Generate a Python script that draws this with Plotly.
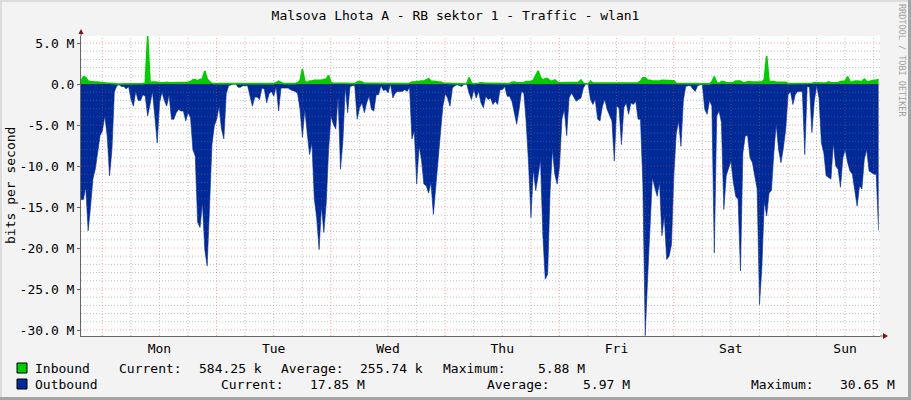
"""RRDtool-style weekly traffic graph for wlan1, redrawn with Plotly."""

import pandas as pd
import plotly.graph_objects as go

TITLE = "Malsova Lhota A - RB sektor 1 - Traffic - wlan1"
Y_TITLE = "bits per second"
WATERMARK = "RRDTOOL / TOBI OETIKER"

START = "2013-03-03 19:32"
STEP = "30min"
DAYS = ["Mon", "Tue", "Wed", "Thu", "Fri", "Sat", "Sun"]

Y_TICKS = [5, 0, -5, -10, -15, -20, -25, -30]
Y_LABELS = ["5.0 M", "0.0", "-5.0 M", "-10.0 M", "-15.0 M", "-20.0 M", "-25.0 M", "-30.0 M"]

# Mbit/s, one value every 30 minutes
INBOUND_M = [
    0.35, 0.9, 0.8, 0.35, 0.3, 0.25, 0.25, 0.25, 0.2, 0.12, 0.12, 0.1, 0.1, 0.1, 0.05, 0.0,
    0.0, 0.05, 0.05, 0.05, 0.05, 0.05, 0.05, 0.05, 0.05, 0.05, 0.05, 0.1, 5.88, 0.15, 0.25, 0.25,
    0.2, 0.2, 0.15, 0.15, 0.2, 0.15, 0.15, 0.2, 0.2, 0.15, 0.15, 0.2, 0.15, 0.2, 0.3, 0.5,
    0.5, 0.4, 0.55, 0.6, 1.6, 0.6, 0.3, 0.1, 0.05,
    0.05, 0.05, 0.05, 0.05, 0.05, 0.03, 0.03, 0.0, 0.0, 0.02, 0.02, 0.02, 0.02, 0.02, 0.02, 0.02,
    0.02, 0.02, 0.02, 0.02, 0.02, 0.02, 0.02, 0.02, 0.05, 0.15, 0.35, 0.2, 0.05, 0.05, 0.05, 0.05,
    0.05, 0.05, 0.15, 0.4, 1.8, 0.35, 0.15, 0.35, 0.35, 0.45, 0.45, 0.45, 0.45, 0.55, 0.6, 1.05,
    0.15, 0.12, 0.12, 0.12, 0.12, 0.12, 0.08, 0.12, 0.05, 0.05, 0.05, 0.25, 0.3, 0.25, 0.08, 0.08,
    0.08, 0.08, 0.08, 0.08, 0.08, 0.08, 0.08, 0.08, 0.05, 0.0, 0.05, 0.05, 0.05, 0.05, 0.05, 0.05,
    0.05, 0.1, 0.25, 0.25, 0.3, 0.35, 0.35, 0.35, 0.5, 0.65, 0.35, 0.35, 0.3, 0.25, 0.25, 0.12,
    0.08, 0.08, 0.08, 0.05, 0.05, 0.05, 0.05, 0.05, 0.0, 0.0, 0.8, 0.1, 0.05, 0.05, 0.1, 0.15,
    0.08, 0.08, 0.08, 0.08, 0.08, 0.08, 0.08, 0.08, 0.05, 0.05, 0.05, 0.05, 0.2, 0.25, 0.15, 0.15,
    0.15, 0.15, 0.3, 0.3, 0.3, 0.45, 1.0, 1.6, 0.8, 0.45, 0.65, 0.65, 0.35, 0.35, 0.5, 0.25,
    0.15, 0.15, 0.15, 0.15, 0.15, 0.15, 0.15, 0.15, 0.2, 0.5, 0.1, 0.0, 0.0, 0.35, 0.12, 0.12,
    0.12, 0.12, 0.12, 0.12, 0.15, 0.2, 0.2, 0.2, 0.2, 0.2, 0.2, 0.2, 0.15, 0.15, 0.15, 0.15,
    0.15, 0.15, 0.35, 0.75, 0.75, 0.45, 0.45, 0.35, 0.35, 0.35, 0.35, 0.45, 0.45, 0.45, 0.45, 0.45,
    0.4,
    0.08, 0.08, 0.05, 0.02, 0.02, 0.02, 0.02, 0.02, 0.02, 0.02, 0.02, 0.02, 0.02, 0.02, 0.02, 0.25,
    0.9, 0.15, 0.08, 0.3, 0.3, 0.15, 0.15, 0.15, 0.15, 0.35, 0.35, 0.35, 0.15, 0.15, 0.3, 0.25,
    0.25, 0.25, 0.25, 0.25, 0.25, 0.55, 3.4, 0.3, 0.3, 0.3, 0.2, 0.2, 0.2, 0.2, 0.2,
    0.05, 0.05, 0.05, 0.05, 0.05, 0.05, 0.05, 0.05, 0.05, 0.05, 0.1, 0.15, 0.12, 0.12, 0.12, 0.12,
    0.12, 0.25, 0.15, 0.15, 0.15, 0.15, 0.3, 0.35, 0.35, 0.9, 0.25, 0.25, 0.35, 0.35, 0.3, 0.3,
    0.6, 0.3, 0.3, 0.4, 0.45, 0.45, 0.58,
]

# Mbit/s, drawn below the zero line
OUTBOUND_M = [
    14.1, 14.1, 12.6, 17.9, 15.0, 11.6, 10.4, 8.0, 6.3, 5.7, 3.9, 6.3, 11.2, 8.0, 1.0, 0.2,
    0.1, 0.3, 0.3, 0.6, 0.3, 1.9, 2.7, 0.9, 2.0, 2.0, 1.3, 1.5, 3.9, 2.5, 0.9, 3.9,
    7.2, 2.3, 1.0, 2.0, 2.7, 1.3, 4.3, 4.3, 3.5, 3.1, 3.3, 3.3, 4.5, 3.5, 4.1, 8.0,
    8.8, 16.9, 17.5, 14.5, 20.2, 22.2, 14.5, 7.4, 5.1,
    4.3, 2.7, 5.5, 6.7, 1.2, 0.2, 0.1, 0.0, 0.0, 0.4, 0.4, 0.2, 0.2, 0.2, 1.5, 2.7,
    1.6, 1.6, 1.9, 0.5, 0.6, 2.3, 1.2, 0.9, 1.5, 0.3, 3.3, 0.5, 0.5, 0.5, 0.5, 0.7,
    0.8, 0.9, 1.2, 3.1, 6.5, 3.1, 5.9, 8.6, 7.2, 14.0, 16.3, 20.2, 14.9, 18.1, 14.5, 8.0,
    3.9, 4.9, 5.5, 1.5, 10.4, 7.0, 0.3, 3.5, 0.3, 0.2, 0.2, 4.3, 2.9, 2.3, 3.5, 2.3,
    1.5, 3.1, 3.3, 1.3, 1.3, 0.2, 0.8, 0.7, 1.1, 0.0, 1.7, 1.1, 0.9, 0.9, 0.9, 0.7,
    0.9, 0.4, 6.7, 5.7, 12.2, 7.6, 9.2, 12.2, 12.4, 13.3, 12.0, 15.9, 12.4, 8.4, 5.9, 2.7,
    1.2, 1.7, 2.7, 0.5, 0.2, 0.1, 0.2, 0.3, 0.0, 0.0, 1.1, 1.9, 0.7, 1.7, 0.9, 2.3,
    2.9, 1.5, 1.9, 1.7, 2.5, 2.1, 2.5, 0.7, 0.7, 0.3, 1.5, 1.5, 2.1, 3.5, 4.9, 3.1,
    0.9, 1.1, 4.7, 9.8, 16.3, 10.4, 13.0, 11.2, 9.2, 18.5, 23.8, 23.2, 13.3, 8.0, 11.0, 12.2,
    10.0,
    4.3, 3.1, 6.3, 1.7, 1.1, 1.7, 2.1, 1.9, 1.7, 0.5, 0.0, 0.0, 1.9, 2.5, 1.9, 4.3,
    4.5, 2.7, 1.9, 3.1, 3.7, 4.5, 9.4, 2.7, 2.9, 7.4, 2.9, 2.3, 3.7, 2.3, 2.5, 2.1,
    4.3, 4.3, 12.2, 30.65, 23.6, 16.5, 11.4, 12.6, 13.7, 12.0, 18.5, 16.1, 21.4, 21.0, 19.6, 11.2,
    6.1, 4.5, 7.6, 2.0, 0.3, 0.2, 0.2, 0.6, 0.9, 0.2, 0.1, 0.1, 3.1, 3.7, 2.0, 2.7,
    20.6, 3.9, 3.3, 4.7, 15.3, 11.2, 10.4, 9.4, 12.0, 13.7, 14.1, 22.8, 8.4, 6.3, 6.3, 9.0,
    9.6, 11.2, 12.8, 26.9, 22.2, 14.3, 16.1, 13.3, 13.0, 8.4, 4.9, 8.0, 9.6, 7.8, 5.5,
    1.3, 0.9, 2.5, 1.3, 0.9, 0.9, 0.9, 8.6, 0.3, 0.4, 5.9, 2.1, 0.2, 1.7, 7.2, 8.4,
    11.2, 11.4, 11.6, 7.2, 10.0, 10.4, 12.6, 9.0, 8.0, 9.6, 10.6, 11.0, 13.0, 14.9, 12.4, 12.8,
    9.2, 8.0, 10.6, 10.8, 11.0, 11.0, 17.85,
]

STAT_NAMES = ["Current:", "Average:", "Maximum:"]
INBOUND_STATS = ["584.25 k", "255.74 k", "5.88 M"]
OUTBOUND_STATS = ["17.85 M", "5.97 M", "30.65 M"]

IN_COLOR = "#00CC00"
OUT_COLOR = "#002A97"
FONT = "DejaVu Sans Mono"

# pixel layout of the 911x400 canvas
W, H = 911, 400
L, R, T, B = 81, 880, 36, 336


def px(x):
    return (x - L) / (R - L)


def py(y):
    return (B - y) / (B - T)


times = pd.date_range(START, periods=len(OUTBOUND_M), freq=STEP)
x_end = times[0] + pd.Timedelta(hours=167.8)
noons = pd.date_range(times[0].normalize() + pd.Timedelta(hours=36), periods=len(DAYS), freq="D")

fig = go.Figure()
fig.add_trace(go.Scatter(
    x=times, y=[-v for v in OUTBOUND_M], name="Outbound", mode="lines",
    fill="tozeroy", fillcolor=OUT_COLOR, line=dict(color=OUT_COLOR, width=0.6),
))
fig.add_trace(go.Scatter(
    x=times, y=INBOUND_M, name="Inbound", mode="lines",
    fill="tozeroy", fillcolor=IN_COLOR, line=dict(color=IN_COLOR, width=1.6),
))

# RRDtool draws its grid over the data, so the grid is made of shapes above the traces
grid_gray = "rgba(120,120,120,0.45)"
grid_red = "rgba(255,60,60,0.45)"
shapes = []
for v in range(-30, 6):
    shapes.append(dict(type="line", xref="paper", yref="y", x0=0, x1=1, y0=v, y1=v, layer="above",
                       line=dict(color=grid_red if v % 5 == 0 else grid_gray, width=1, dash="1px,2px")))
for t in pd.date_range(times[0].ceil("6h"), x_end, freq="6h"):
    shapes.append(dict(type="line", xref="x", yref="paper", x0=t, x1=t, y0=0, y1=1, layer="above",
                       line=dict(color=grid_red if t.hour == 0 else grid_gray, width=1, dash="1px,2px")))

# axis extensions and arrow heads
axis_col = "#666666"
arrow_col = "#7F1010"
shapes.append(dict(type="line", xref="paper", yref="paper", x0=0, x1=0, y0=1, y1=py(31),
                   line=dict(color=axis_col, width=1)))
shapes.append(dict(type="line", xref="paper", yref="paper", x0=1, x1=px(884), y0=0, y1=0,
                   line=dict(color=axis_col, width=1)))
shapes.append(dict(type="path", xref="paper", yref="paper", fillcolor=arrow_col, line=dict(width=0),
                   path=f"M {px(78.5)} {py(34)} L {px(81)} {py(29)} L {px(83.5)} {py(34)} Z"))
shapes.append(dict(type="path", xref="paper", yref="paper", fillcolor=arrow_col, line=dict(width=0),
                   path=f"M {px(883)} {py(333)} L {px(888)} {py(336)} L {px(883)} {py(339)} Z"))

# canvas bevel
shapes.append(dict(type="rect", xref="paper", yref="paper", x0=px(908), x1=px(W), y0=py(H), y1=py(0),
                   fillcolor="#A4A4A4", line=dict(width=0)))
shapes.append(dict(type="rect", xref="paper", yref="paper", x0=px(0), x1=px(W), y0=py(H), y1=py(397),
                   fillcolor="#A4A4A4", line=dict(width=0)))
shapes.append(dict(type="rect", xref="paper", yref="paper", x0=px(0), x1=px(908), y0=py(2), y1=py(0),
                   fillcolor="#DCDCDC", line=dict(width=0)))
shapes.append(dict(type="rect", xref="paper", yref="paper", x0=px(0), x1=px(2), y0=py(397), y1=py(0),
                   fillcolor="#DCDCDC", line=dict(width=0)))

# legend rows: colour box, name, then the three statistics
legend_rows = [
    ("Inbound", IN_COLOR, INBOUND_STATS, 368, [117, 197, 279, 358, 441, 536]),
    ("Outbound", OUT_COLOR, OUTBOUND_STATS, 384, [219, 308, 485, 581, 749, 838]),
]
annotations = []
txt = dict(family=FONT, size=13, color="#000000")
for name, color, stats, yc, xs in legend_rows:
    shapes.append(dict(type="rect", xref="paper", yref="paper", x0=px(17), x1=px(27),
                       y0=py(yc + 5), y1=py(yc - 5), fillcolor=color, line=dict(color="#000000", width=1)))
    annotations.append(dict(text=name, x=px(33), y=py(yc)))
    for i, stat in enumerate(stats):
        annotations.append(dict(text=STAT_NAMES[i], x=px(xs[2 * i]), y=py(yc)))
        annotations.append(dict(text=stat, x=px(xs[2 * i + 1]), y=py(yc)))
for a in annotations:
    a.update(xref="paper", yref="paper", xanchor="left", yanchor="middle", showarrow=False, font=txt)

annotations.append(dict(text=Y_TITLE, xref="paper", yref="paper", x=px(10), y=0.5, textangle=-90,
                        showarrow=False, xanchor="center", yanchor="middle", font=txt))
annotations.append(dict(text=WATERMARK, xref="paper", yref="paper", x=px(902), y=py(60), textangle=90,
                        showarrow=False, xanchor="center", yanchor="middle",
                        font=dict(family=FONT, size=8.5, color="#A0A0A0")))

fig.update_layout(
    width=W, height=H,
    margin=dict(l=L, r=W - R, t=T, b=H - B),
    paper_bgcolor="#F3F3F3", plot_bgcolor="#FFFFFF",
    showlegend=False,
    title=dict(text=TITLE, x=0.5, xref="container", y=1 - 15 / H, yref="container",
               xanchor="center", yanchor="middle", font=dict(family=FONT, size=13, color="#000000")),
    font=dict(family=FONT, size=13, color="#000000"),
    shapes=shapes,
    annotations=annotations,
)
fig.update_xaxes(
    type="date", range=[times[0], x_end], tickvals=noons, ticktext=DAYS,
    showgrid=False, zeroline=False, showline=True, linecolor=axis_col, linewidth=1,
    ticks="", layer="above traces", tickfont=dict(family=FONT, size=13, color="#000000"),
)
fig.update_yaxes(
    range=[-(B - 84) / 8.2, (84 - T) / 8.2], tickvals=Y_TICKS, ticktext=Y_LABELS,
    showgrid=False, zeroline=False, showline=True, linecolor=axis_col, linewidth=1,
    ticks="outside", ticklen=3, tickcolor=axis_col, layer="above traces",
    tickfont=dict(family=FONT, size=13, color="#000000"),
)

# the page is photographed from its top-left corner, so drop the browser's body margin
fig.write_html("out.html", config={"displayModeBar": False},
               post_script="document.body.style.margin = '0';")
